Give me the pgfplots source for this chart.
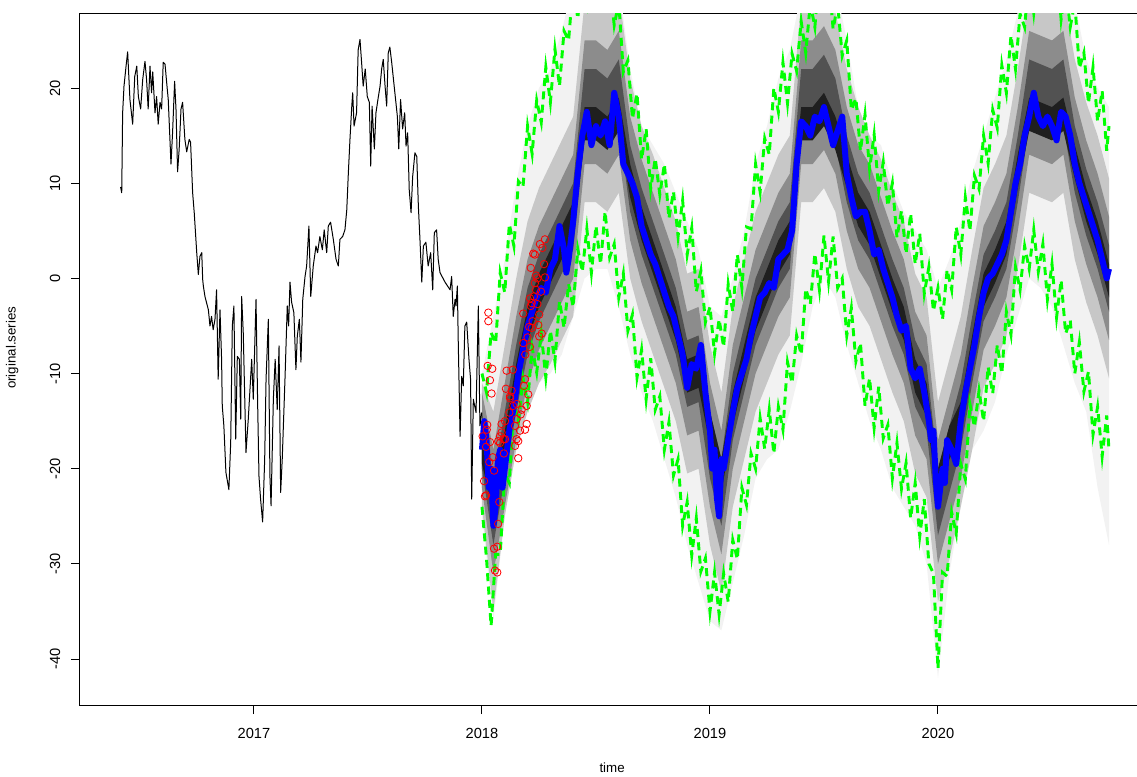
\documentclass[border=0pt]{standalone}
\usepackage{pgfplots}
\pgfplotsset{compat=1.18}
\usepackage{pgfplotstable}
\usepgfplotslibrary{fillbetween}
\usepackage{fontspec}
\setmainfont{Liberation Sans}

% observed history
\pgfplotstableread{
t v
2016.415 9.6
2016.420 9.0
2016.424 17.4
2016.430 20.2
2016.439 22.3
2016.446 23.8
2016.456 18.8
2016.468 16.2
2016.477 21.2
2016.486 22.3
2016.493 19.1
2016.503 17.8
2016.512 20.9
2016.522 22.8
2016.529 20.9
2016.536 17.8
2016.544 22.3
2016.551 19.5
2016.556 21.7
2016.566 17.4
2016.573 19.1
2016.580 16.2
2016.588 18.5
2016.595 17.8
2016.602 22.7
2016.610 22.5
2016.617 20.6
2016.624 18.8
2016.632 14.3
2016.636 12.0
2016.643 15.3
2016.652 20.7
2016.658 17.8
2016.665 11.2
2016.672 13.6
2016.680 17.8
2016.687 18.5
2016.697 14.6
2016.705 13.3
2016.716 14.6
2016.722 14.3
2016.731 9.0
2016.738 6.9
2016.749 2.7
2016.756 0.4
2016.763 2.3
2016.771 2.7
2016.775 -0.1
2016.778 -0.8
2016.785 -1.9
2016.800 -3.3
2016.807 -5.0
2016.814 -4.0
2016.821 -5.4
2016.829 -4.3
2016.836 -1.2
2016.843 -10.6
2016.851 -3.3
2016.858 -8.5
2016.861 -13.4
2016.868 -15.5
2016.877 -20.4
2016.890 -22.2
2016.898 -17.2
2016.905 -5.0
2016.912 -2.9
2016.920 -16.9
2016.927 -8.2
2016.936 -8.5
2016.942 -14.8
2016.946 -1.9
2016.953 -5.7
2016.965 -18.3
2016.975 -14.8
2016.990 -8.5
2016.997 -12.7
2017.009 -2.2
2017.016 -13.0
2017.022 -20.8
2017.029 -23.2
2017.038 -25.6
2017.047 -19.0
2017.053 -10.6
2017.063 -4.3
2017.070 -20.8
2017.075 -23.9
2017.085 -12.7
2017.093 -8.5
2017.102 -13.8
2017.110 -7.1
2017.117 -22.5
2017.124 -19.0
2017.136 -10.6
2017.146 -2.9
2017.152 -5.0
2017.158 -0.4
2017.165 -2.5
2017.175 -3.6
2017.184 -9.6
2017.190 -6.1
2017.199 -4.3
2017.206 -8.8
2017.214 -2.2
2017.224 0.2
2017.231 1.3
2017.241 5.5
2017.249 -1.9
2017.260 1.3
2017.272 3.4
2017.279 2.7
2017.289 4.4
2017.300 3.0
2017.308 5.1
2017.319 2.7
2017.326 5.5
2017.336 5.9
2017.348 4.1
2017.360 2.0
2017.370 1.3
2017.377 4.1
2017.389 4.4
2017.399 5.1
2017.407 7.2
2017.414 11.1
2017.421 14.6
2017.429 18.1
2017.433 19.5
2017.439 16.0
2017.450 17.4
2017.457 24.0
2017.465 25.1
2017.472 22.7
2017.479 20.2
2017.488 22.0
2017.497 19.1
2017.506 18.5
2017.512 11.8
2017.518 18.1
2017.528 13.6
2017.535 17.4
2017.545 19.0
2017.553 20.2
2017.560 22.0
2017.567 23.0
2017.575 20.2
2017.582 18.1
2017.589 23.7
2017.596 24.3
2017.604 22.7
2017.618 19.5
2017.629 17.0
2017.635 13.6
2017.643 18.8
2017.652 15.7
2017.661 17.4
2017.667 13.9
2017.674 15.3
2017.681 9.3
2017.689 6.9
2017.696 10.7
2017.706 13.2
2017.714 12.8
2017.721 7.6
2017.728 4.1
2017.736 -0.4
2017.743 3.4
2017.754 3.8
2017.764 1.3
2017.775 2.7
2017.784 -1.2
2017.791 4.8
2017.801 5.1
2017.808 2.0
2017.816 0.6
2017.838 -0.4
2017.860 -1.2
2017.867 0.2
2017.874 -4.0
2017.882 -2.2
2017.886 -2.9
2017.892 -0.8
2017.896 -6.7
2017.904 -16.6
2017.911 -10.3
2017.918 -11.3
2017.925 -5.0
2017.933 -4.6
2017.943 -8.5
2017.950 -10.6
2017.955 -23.2
2017.962 -12.7
2017.974 -14.1
2017.984 -2.9
2017.991 -15.5
2017.999 -14.1
}\hist

% forecast density bands
\pgfplotstableread{
t o1 o2 m1 m2 i1 i2 c1 c2 d1 d2
2018.00 -25 -10 -24 -11 -22 -12 -20 -14 -19.5 -16
2018.05 -36 -4 -35 -14 -31 -18 -28 -21 -24.5 -21
2018.10 -25 2 -25 -7 -24 -11 -21 -14 -19.5 -16
2018.15 -18 10 -18 0 -17 -4 -14 -7 -12.5 -9
2018.20 -14 16 -14 6 -11 2 -8 -1 -6.5 -3
2018.25 -11 20 -11 9.5 -7.5 5.5 -4.5 2.5 -3 0.5
2018.30 -10 22 -9 12 -5 8 -2 5 -0.5 3
2018.35 -8 26 -6.5 14.5 -2.5 10.5 0.5 7.5 2 5.5
2018.40 -4 31 -4 17 0 13 3 10 4.5 8
2018.45 0 33 8 29 12 25 15 22 14.5 18
2018.50 1 33 8 29 12 25 15 22 14.5 18
2018.55 1 33 7 28 11 24 14 21 13.5 17
2018.60 -3 31 9 30 13 26 16 23 15.5 19
2018.65 -8 22 0 21 4 17 7 14 8.5 12
2018.70 -12 16 -4.5 16 -0.5 12.5 2.5 9.5 4 7.5
2018.75 -15 14 -8 13 -4 9 -1 6 0.5 4
2018.80 -19 12 -11.5 9.5 -7.5 5.5 -4.5 2.5 -3 0.5
2018.85 -23 9 -15 6 -11 2 -8 -1 -6.5 -3
2018.90 -28 6 -20.5 0.5 -16.5 -3.5 -13.5 -6.5 -12 -8.5
2018.95 -32 3 -20 1 -16 -3 -13 -6 -11.5 -8
2019.00 -36 -3 -28 -7 -24 -11 -21 -14 -17.5 -14
2019.05 -37 -4 -33 -12 -29 -16 -26 -19 -22.5 -19
2019.10 -32 0 -24 -3 -20 -7 -17 -10 -15.5 -12
2019.15 -27 5 -19 2 -15 -2 -12 -5 -10.5 -7
2019.20 -21 12 -14 7 -10 3 -7 0 -5.5 -2
2019.25 -19 16 -11 10 -7 6 -4 3 -2.5 1
2019.30 -18 21 -8 13 -4 9 -1 6 0.5 4
2019.35 -14 24 -6 15 -2 11 1 8 2.5 6
2019.40 -9 30 8 29 12 25 15 22 14.5 18
2019.45 -3 31 8 29 12 25 15 22 14.5 18
2019.50 0 32 9.5 30.5 13.5 26.5 16.5 23.5 16 19.5
2019.55 -2 31 7 28 11 24 14 21 13.5 17
2019.60 -7 25 1 22 5 18 8 15 9.5 13
2019.65 -11 18 -3 18 1 14 4 11 5.5 9
2019.70 -15 15 -5 15 -1 12 2 9 3.5 7
2019.75 -18 14 -8.5 12.5 -4.5 8.5 -1.5 5.5 0 3.5
2019.80 -22 10 -12 9 -8 5 -5 2 -3.5 0
2019.85 -24 7 -15 6 -11 2 -8 -1 -6.5 -3
2019.90 -26 5 -20.5 0.5 -16.5 -3.5 -13.5 -6.5 -12 -8.5
2019.95 -30 3 -23 -2 -19 -6 -16 -9 -14.5 -11
2020.00 -42 -1 -34 -13 -30 -17 -27 -20 -23.5 -20
2020.05 -31 2 -29.5 -8.5 -25.5 -12.5 -22.5 -15.5 -19 -15.5
2020.10 -24 6 -24 -4 -21 -8 -18 -11 -16.5 -13
2020.15 -18 11 -18 3 -14 -1 -11 -4 -9.5 -6
2020.20 -16 15 -11.5 9.5 -7.5 5.5 -4.5 2.5 -3 0.5
2020.25 -13 19 -9 12 -5 8 -2 5 -0.5 3
2020.30 -8 23 -6 15 -2 11 1 8 2.5 6
2020.35 -4 28 1 22 5 18 8 15 9.5 13
2020.40 0 32 9 30 13 26 16 23 15.5 19
2020.45 -1 33 8.5 29.5 12.5 25.5 15.5 22.5 15 18.5
2020.50 -3 33 8 29 12 25 15 22 14.5 18
2020.55 -7 32 9 30 13 26 16 23 15.5 19
2020.60 -11 29 2 23 6 19 9 16 10.5 14
2020.65 -14 23 -2.5 18.5 1.5 14.5 4.5 11.5 6 9.5
2020.70 -22 20 -6 15 -2 11 1 8 2.5 6
2020.75 -28 18 -10.5 10.5 -6.5 6.5 -3.5 3.5 -2 1.5
}\fan

% forecast median
\pgfplotstableread{
t v
2018.00 -18
2018.01 -15
2018.02 -17
2018.03 -22
2018.04 -20
2018.05 -26
2018.06 -24
2018.07 -19
2018.08 -18
2018.09 -22
2018.10 -20
2018.12 -16
2018.14 -13.5
2018.16 -10
2018.18 -7.5
2018.20 -5
2018.22 -3.5
2018.24 -2
2018.26 -1
2018.28 -1.5
2018.30 1
2018.32 2
2018.34 5.5
2018.36 3
2018.37 0.6
2018.38 2
2018.40 6
2018.42 11
2018.44 15
2018.46 17.5
2018.48 14
2018.50 16
2018.52 15
2018.54 16.5
2018.56 14
2018.58 19.5
2018.60 17
2018.62 12
2018.64 11
2018.66 10
2018.68 8.5
2018.70 5.5
2018.72 4
2018.74 2.5
2018.76 1.5
2018.78 0
2018.80 -1.5
2018.82 -3
2018.84 -4
2018.86 -6
2018.88 -8
2018.90 -11.5
2018.92 -9
2018.94 -9.5
2018.96 -7
2018.98 -12
2019.00 -16
2019.01 -20
2019.02 -18
2019.03 -23
2019.04 -25
2019.05 -19
2019.06 -20
2019.08 -17
2019.10 -14
2019.12 -11.5
2019.14 -10
2019.16 -8.5
2019.18 -6
2019.20 -4
2019.22 -2
2019.24 -1.5
2019.26 -0.5
2019.28 -1
2019.30 2
2019.32 2.5
2019.34 3
2019.36 5
2019.38 12
2019.40 16.5
2019.42 16
2019.44 15
2019.46 17
2019.48 16.5
2019.50 18
2019.52 16
2019.54 14
2019.56 15.5
2019.58 17
2019.60 11
2019.62 8.5
2019.64 6.5
2019.66 7
2019.68 7
2019.70 5
2019.72 2.5
2019.74 3
2019.76 1
2019.78 -0.5
2019.80 -2
2019.82 -4
2019.84 -5.5
2019.86 -5
2019.88 -9.5
2019.90 -10.5
2019.92 -9.5
2019.94 -12
2019.96 -15
2019.97 -17
2019.98 -16
2019.99 -21
2020.00 -24
2020.01 -22
2020.02 -20
2020.03 -21.5
2020.04 -17
2020.06 -18
2020.08 -19.5
2020.10 -15
2020.12 -12
2020.14 -9.5
2020.16 -7
2020.18 -4
2020.20 -1.5
2020.22 0
2020.24 0.5
2020.26 1.5
2020.28 2.5
2020.30 4
2020.32 7
2020.34 10
2020.36 12
2020.38 15
2020.40 17
2020.42 19.5
2020.44 17
2020.46 16
2020.48 17
2020.50 16
2020.52 14.5
2020.54 17.5
2020.56 17
2020.58 15
2020.60 12
2020.62 10
2020.64 8.5
2020.66 7
2020.68 5.5
2020.70 4
2020.72 2
2020.74 0
2020.75 1
}\med

% upper and lower bounds
\pgfplotstableread{
t up lo
2018.00 -10 -24
2018.02 -12 -29.5
2018.04 -5.7 -36.5
2018.06 -6.8 -29
2018.08 0.6 -29
2018.10 -1.5 -20.5
2018.12 5.7 -21.5
2018.14 3.4 -13
2018.16 10.2 -15
2018.18 9.6 -10.5
2018.20 16 -13
2018.22 13.1 -7.3
2018.24 18.7 -9.9
2018.26 16.4 -5.8
2018.28 22.2 -10.4
2018.30 18.5 -5.5
2018.32 24.1 -8.7
2018.34 20.2 -2.4
2018.36 26 -5.2
2018.38 25 -0.6
2018.40 31 -3
2018.42 27.3 3.1
2018.44 32 0.7
2018.46 29 5.2
2018.48 34 0.6
2018.50 29.5 5.5
2018.52 33.5 1.5
2018.54 28 7
2018.56 31.2 2.2
2018.58 26.6 3.6
2018.60 29 -2
2018.62 21.7 0.5
2018.64 22.9 -5.5
2018.66 16.8 -3.8
2018.68 19.4 -10.4
2018.70 12.5 -7.5
2018.72 15.7 -12.7
2018.74 9.4 -8.4
2018.76 12.6 -13.8
2018.78 8.8 -12.4
2018.80 12 -18
2018.82 6.3 -15.1
2018.84 9.1 -20.7
2018.86 4.4 -19
2018.88 8.2 -26
2018.90 2.5 -23.5
2018.92 5.3 -29.1
2018.94 -1.4 -25.2
2018.96 0.8 -30.8
2018.98 -4.6 -29.4
2019.00 -3 -35
2019.02 -7.9 -30.9
2019.04 -4.3 -35.3
2019.06 -7.2 -31
2019.08 -0.6 -34
2019.10 -3.5 -27.5
2019.12 2.5 -29.5
2019.14 -1 -22
2019.16 5.4 -23.8
2019.18 5.2 -18.4
2019.20 12 -20
2019.22 9.1 -14.7
2019.24 14.7 -17.9
2019.26 13 -13.8
2019.28 20 -18.4
2019.30 17.5 -13.5
2019.32 22.7 -15.9
2019.34 18.4 -8.8
2019.36 23.6 -11
2019.38 21.8 -6
2019.40 27 -8
2019.42 23.7 -1.1
2019.44 28.9 -2.7
2019.46 26.4 2.6
2019.48 32.2 -1.2
2019.50 28.5 4.5
2019.52 32.1 -0.3
2019.54 26.2 4.4
2019.56 28.8 -1
2019.58 23.4 0
2019.60 25 -6
2019.62 17.7 -3.1
2019.64 18.9 -8.7
2019.66 13.4 -6.8
2019.68 17.2 -13.4
2019.70 11.5 -10.5
2019.72 15.1 -15.7
2019.74 9.2 -11.4
2019.76 12.2 -16.8
2019.78 7.6 -15.4
2019.80 10 -21
2019.82 4.3 -17.3
2019.84 7.1 -22.1
2019.86 2.6 -19.4
2019.88 6.8 -25.2
2019.90 1.5 -21.5
2019.92 4.7 -27.1
2019.94 -1.6 -23.2
2019.96 1.2 -30
2019.98 -3.4 -31
2020.00 -1 -41
2020.02 -4.3 -30.9
2020.04 0.9 -31.3
2020.06 -1.2 -24.6
2020.08 5.4 -26.8
2020.10 2.5 -19.5
2020.12 8.5 -21.1
2020.14 5 -13.2
2020.16 10.8 -15.6
2020.18 9.4 -11.8
2020.20 15 -15
2020.22 12.1 -9.3
2020.24 17.7 -12.1
2020.26 15.8 -7
2020.28 22.4 -10
2020.30 19.5 -3.5
2020.32 25.5 -5.9
2020.34 22 1.2
2020.36 27.8 -1.2
2020.38 26.4 3.4
2020.40 32 1
2020.42 27.9 5.1
2020.44 32.3 0.7
2020.46 29 3.6
2020.48 34 -2.2
2020.50 29.5 1.5
2020.52 33.1 -4.1
2020.54 27.2 -0.2
2020.56 30.6 -5.8
2020.58 26.4 -4.4
2020.60 29 -10
2020.62 22.1 -6.7
2020.64 23.7 -11.9
2020.66 18.4 -9.8
2020.68 22.2 -16.4
2020.70 16.5 -13.5
2020.72 19.7 -18.7
2020.74 13.4 -14.4
2020.75 16 -18
}\bounds

% held-out observations
\pgfplotstableread{
t v
2018.028 -3.6
2018.028 -4.5
2018.025 -9.2
2018.045 -9.5
2018.035 -10.7
2018.042 -12.1
2018.108 -9.7
2018.135 -9.6
2018.105 -11.6
2018.123 -12.4
2018.130 -11.8
2018.137 -13.4
2018.120 -14.1
2018.189 -10.6
2018.184 -11.3
2018.203 -12.2
2018.196 -13.4
2018.174 -13.8
2018.170 -14.3
2018.152 -14.8
2018.145 -15.5
2018.196 -15.3
2018.189 -15.9
2018.167 -16.0
2018.152 -16.9
2018.159 -17.1
2018.145 -17.6
2018.159 -18.9
2018.101 -15.0
2018.086 -15.3
2018.079 -16.6
2018.094 -16.9
2018.079 -17.3
2018.071 -17.1
2018.101 -16.9
2018.086 -16.2
2018.023 -15.4
2018.021 -15.9
2018.003 -16.6
2018.018 -17.7
2018.035 -17.2
2018.047 -18.8
2018.032 -19.3
2018.053 -20.2
2018.009 -21.3
2018.013 -22.9
2018.018 -22.8
2018.076 -23.5
2018.071 -25.8
2018.053 -28.4
2018.067 -28.2
2018.057 -30.7
2018.067 -30.9
2018.096 -18.4
2018.225 2.6
2018.272 1.5
2018.214 1.1
2018.237 0.3
2018.243 0.0
2018.276 0.1
2018.232 -0.5
2018.237 -1.2
2018.259 -1.4
2018.211 -2.1
2018.228 -1.9
2018.218 -2.6
2018.243 -2.7
2018.214 -2.9
2018.181 -3.7
2018.251 -3.8
2018.222 -4.5
2018.247 -4.9
2018.218 -5.2
2018.207 -5.1
2018.262 -5.8
2018.251 -6.1
2018.200 -6.2
2018.181 -6.8
2018.123 -12.6
2018.152 -13.2
2018.254 3.6
2018.276 4.1
2018.232 2.5
2018.265 3.2
2018.190 -8.0
2018.210 -7.2
}\obs

\begin{document}
\begin{tikzpicture}
\begin{axis}[
  name=main,
  scale only axis,
  width=795pt, height=518.25pt,
  xmin=2016.237, xmax=2020.886,
  ymin=-44.83, ymax=27.78,
  axis line style={line width=0.75pt},
  xtick={2017,2018,2019,2020},
  xticklabels={2017,2018,2019,2020},
  ytick={-40,-30,-20,-10,0,10,20},
  yticklabels={-40,-30,-20,-10,0,10,20},
  tick align=outside, tick pos=left,
  major tick length=6.75pt,
  every tick/.style={black, line width=0.75pt},
  tick label style={font=\fontsize{11}{13}\selectfont},
  yticklabel style={rotate=90, anchor=south},
  yticklabel shift=4.5pt,
  xticklabel shift=7pt,
  xlabel={time}, ylabel={original.series},
  label style={font=\fontsize{11}{13}\selectfont},
  every axis x label/.style={at={(axis description cs:0.502,-0.091)}, anchor=center},
  every axis y label/.style={at={(axis description cs:-0.064,0.517)}, rotate=90, anchor=center},
]
% density fan
\addplot[draw=none, name path=o1] table[x=t, y=o1]{\fan};
\addplot[draw=none, name path=o2] table[x=t, y=o2]{\fan};
\addplot[draw=none, name path=m1] table[x=t, y=m1]{\fan};
\addplot[draw=none, name path=m2] table[x=t, y=m2]{\fan};
\addplot[draw=none, name path=i1] table[x=t, y=i1]{\fan};
\addplot[draw=none, name path=i2] table[x=t, y=i2]{\fan};
\addplot[draw=none, name path=c1] table[x=t, y=c1]{\fan};
\addplot[draw=none, name path=c2] table[x=t, y=c2]{\fan};
\addplot[draw=none, name path=d1] table[x=t, y=d1]{\fan};
\addplot[draw=none, name path=d2] table[x=t, y=d2]{\fan};
\addplot[black!5, draw=none] fill between[of=o1 and o2];
\addplot[black!22, draw=none] fill between[of=m1 and m2];
\addplot[black!45, draw=none] fill between[of=i1 and i2];
\addplot[black!68, draw=none] fill between[of=c1 and c2];
\addplot[black!88, draw=none] fill between[of=d1 and d2];
% bounds
\addplot[color={rgb,255:red,0;green,255;blue,0}, line width=2.2pt, dash pattern=on 6pt off 4pt] table[x=t, y=up]{\bounds};
\addplot[color={rgb,255:red,0;green,255;blue,0}, line width=2.2pt, dash pattern=on 6pt off 4pt] table[x=t, y=lo]{\bounds};
% median
\addplot[color={rgb,255:red,0;green,0;blue,255}, line width=4.5pt, line join=round] table[x=t, y=v]{\med};
% history
\addplot[black, line width=0.75pt, line join=round] table[x=t, y=v]{\hist};
% observations
\addplot[only marks, mark=o, mark size=2.8pt, red, mark options={line width=0.6pt}] table[x=t, y=v]{\obs};
\end{axis}
\pgfresetboundingbox
\path[use as bounding box] ([shift={(-60pt,-53.25pt)}]main.south west) rectangle ([shift={(-2.25pt,10.5pt)}]main.north east);
\end{tikzpicture}
\end{document}
